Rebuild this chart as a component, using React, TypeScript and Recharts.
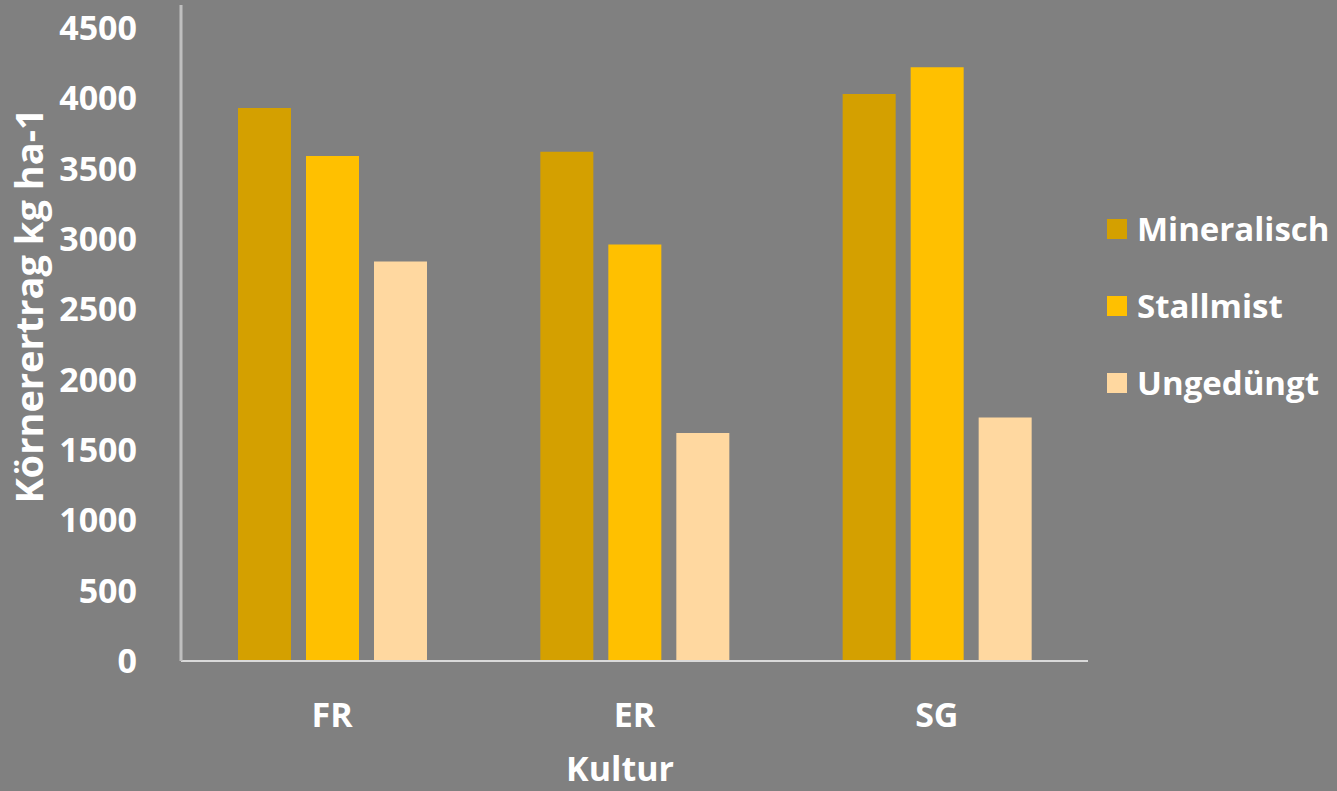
import React from "react";
import { BarChart, Bar, XAxis, YAxis, Legend, Label } from "recharts";

const categories = ["FR", "ER", "SG"];
const mineralisch = [3930, 3620, 4030];
const stallmist = [3590, 2960, 4220];
const ungeduengt = [2840, 1620, 1730];
const yTicks = [0, 500, 1000, 1500, 2000, 2500, 3000, 3500, 4000, 4500];

const series = [
  { key: "Mineralisch", color: "#D4A000" },
  { key: "Stallmist", color: "#FFC000" },
  { key: "Ungedüngt", color: "#FFD8A0" },
];

const data = categories.map((c, i) => ({
  kultur: c,
  Mineralisch: mineralisch[i],
  Stallmist: stallmist[i],
  Ungedüngt: ungeduengt[i],
}));

const FONT = "'Open Sans', sans-serif";

// Legende rechts, vertikal
function LegendBox() {
  return (
    <div style={{ fontFamily: FONT, fontWeight: 700, fontSize: 33, color: "#fff" }}>
      {series.map((s) => (
        <div key={s.key} style={{ display: "flex", alignItems: "center", height: 77 }}>
          <span style={{ width: 20, height: 20, background: s.color, marginRight: 10 }} />
          <span>{s.key}</span>
        </div>
      ))}
    </div>
  );
}

export default function App() {
  return (
    <div style={{ position: "fixed", left: 0, top: 0, width: 1337, height: 791, background: "#808080" }}>
      <BarChart
        width={1337}
        height={791}
        data={data}
        margin={{ top: 5, right: 19, left: 0, bottom: 0 }}
        barSize={53}
        barGap={15}
      >
        <XAxis
          dataKey="kultur"
          height={130}
          axisLine={{ stroke: "#D9D9D9", strokeWidth: 2 }}
          tickLine={false}
          tickMargin={36}
          tick={{ fill: "#fff", fontSize: 34, fontWeight: 700, fontFamily: FONT }}
        >
          <Label
            content={() => (
              <text
                x={620}
                y={781}
                textAnchor="middle"
                fill="#fff"
                fontSize={34}
                fontWeight={700}
                fontFamily={FONT}
              >
                Kultur
              </text>
            )}
          />
        </XAxis>
        <YAxis
          width={181}
          domain={[0, 4663]}
          ticks={yTicks}
          interval={0}
          axisLine={{ stroke: "#BFBFBF", strokeWidth: 3 }}
          tickLine={false}
          tickMargin={38}
          tick={{ fill: "#fff", fontSize: 34, fontWeight: 700, fontFamily: FONT }}
        >
          <Label
            content={() => (
              <text
                transform="translate(43,306) rotate(-90)"
                textAnchor="middle"
                fill="#fff"
                fontSize={38}
                fontWeight={700}
                fontFamily={FONT}
              >
                Körnerertrag kg ha-1
              </text>
            )}
          />
        </YAxis>
        <Legend
          layout="vertical"
          align="right"
          verticalAlign="top"
          content={() => <LegendBox />}
          wrapperStyle={{ left: 1107, top: 190, width: 230 }}
        />
        {series.map((s) => (
          <Bar key={s.key} dataKey={s.key} fill={s.color} isAnimationActive={false} />
        ))}
      </BarChart>
    </div>
  );
}
